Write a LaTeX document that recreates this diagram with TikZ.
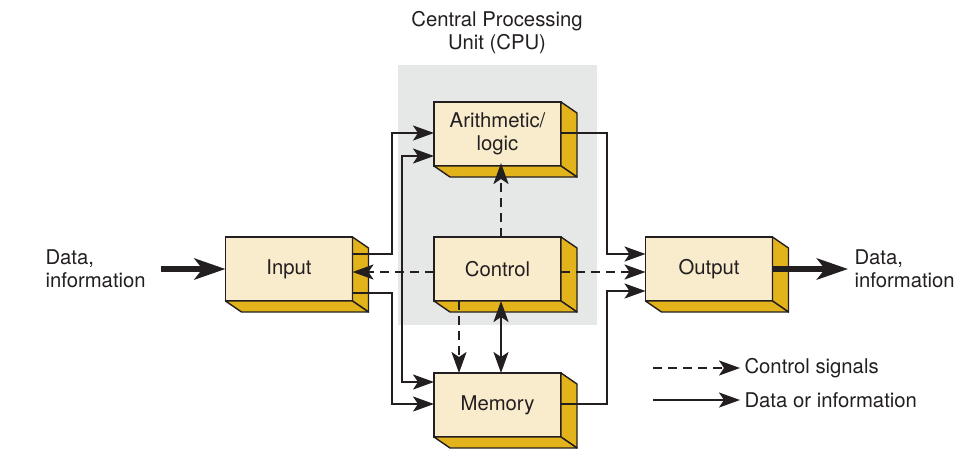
\documentclass[tikz,border=0pt]{standalone}
\usepackage{fontspec}
\setmainfont{TeX Gyre Heros}
\usetikzlibrary{calc, arrows.meta}
\definecolor{cpugray}{HTML}{E6E7E7}
\definecolor{boxfront}{HTML}{F8ECCD}
\definecolor{boxside}{HTML}{E2B31A}
\definecolor{inkline}{HTML}{231F20}

\begin{document}
\begin{tikzpicture}[x=1pt, y=-1pt,
	every node/.style={font=\fontsize{20.3}{23}\selectfont, text=inkline},
	unit/.style={draw=inkline, fill=boxfront, line width=1.4pt, minimum width=127pt, minimum height=64pt, inner sep=0pt, outer sep=0pt, align=center},
	face/.style={fill=boxside, draw=inkline, line width=1.4pt, line join=round},
	data/.style={draw=inkline, line width=2.3pt, -{Stealth[length=21pt, width=15pt, inset=5pt]}},
	twoway/.style={data, {Stealth[length=21pt, width=15pt, inset=5pt]}-{Stealth[length=21pt, width=15pt, inset=5pt]}},
	ctrl/.style={data, dash pattern=on 9pt off 6pt},
	bigdata/.style={draw=inkline, line width=6pt, -{Stealth[length=31pt, width=21pt, inset=8pt]}}]
	\useasboundingbox (0, 0) rectangle (968, 453);

	% CPU region
	\fill[cpugray] (398, 65) rectangle (597, 325);
	\node (cpu) [align=center] at (497, 33) {Central Processing\\Unit (CPU)};

	% units
	\node (inp) [unit] at (289, 269) {Input};
	\node (alu) [unit] at (497.5, 134) {Arithmetic/\\logic};
	\node (ctl) [unit] at (497.5, 269) {Control};
	\node (mem) [unit] at (497.5, 405) {Memory};
	\node (out) [unit] at (709, 269) {Output};

	% side and bottom faces
	\foreach \b in {inp, alu, ctl, mem, out} {
		\draw[face] (\b.north east) -- ++(16, 11) -- ($(\b.south east) + (16, 11)$) -- (\b.south east) -- cycle;
		\draw[face] (\b.south west) -- ++(16, 11) -- ($(\b.south east) + (16, 11)$) -- (\b.south east) -- cycle;
	}

	% data paths
	\draw[data] (inp.east |- 0, 254) -| (392, 133) -- (alu.west |- 0, 133);
	\draw[data] (inp.east |- 0, 293) -| (392, 404) -- (mem.west |- 0, 404);
	\draw[twoway] (alu.west |- 0, 156) -| (402, 382) -- (mem.west |- 0, 382);
	\draw[data] (alu.east |- 0, 133) -| (607, 254) -- (out.west |- 0, 254);
	\draw[data] (mem.east |- 0, 404) -| (607, 291) -- (out.west |- 0, 291);
	\draw[twoway] (ctl.south -| 501, 0) -- (mem.north -| 501, 0);

	% control signals
	\draw[ctrl] (ctl.west |- 0, 272) -- (inp.east |- 0, 272);
	\draw[ctrl] (ctl.east |- 0, 272) -- (out.west |- 0, 272);
	\draw[ctrl] (ctl.north -| 501, 0) -- ([yshift=3pt]alu.south -| 501, 0);
	\draw[ctrl] (ctl.south -| 459, 0) -- (mem.north -| 459, 0);

	% outside world
	\node (din) [align=left, anchor=west] at (42, 269) {Data,\\information};
	\node (dout) [align=left, anchor=west] at (851, 269) {Data,\\information};
	\draw[bigdata] ([xshift=12pt]din.east) -- (inp.west);
	\draw[bigdata] (out.east) -- ([xshift=-3pt]dout.west);

	% legend
	\coordinate (lgc) at (653, 368);
	\coordinate (lgd) at (653, 400);
	\node (lgctl) [anchor=west] at (741, 368) {Control signals};
	\node (lgdat) [anchor=west] at (741, 400) {Data or information};
	\draw[ctrl] (lgc) -- ([xshift=-1pt]lgctl.west);
	\draw[data] (lgd) -- ([xshift=-1pt]lgdat.west);
\end{tikzpicture}
\end{document}
